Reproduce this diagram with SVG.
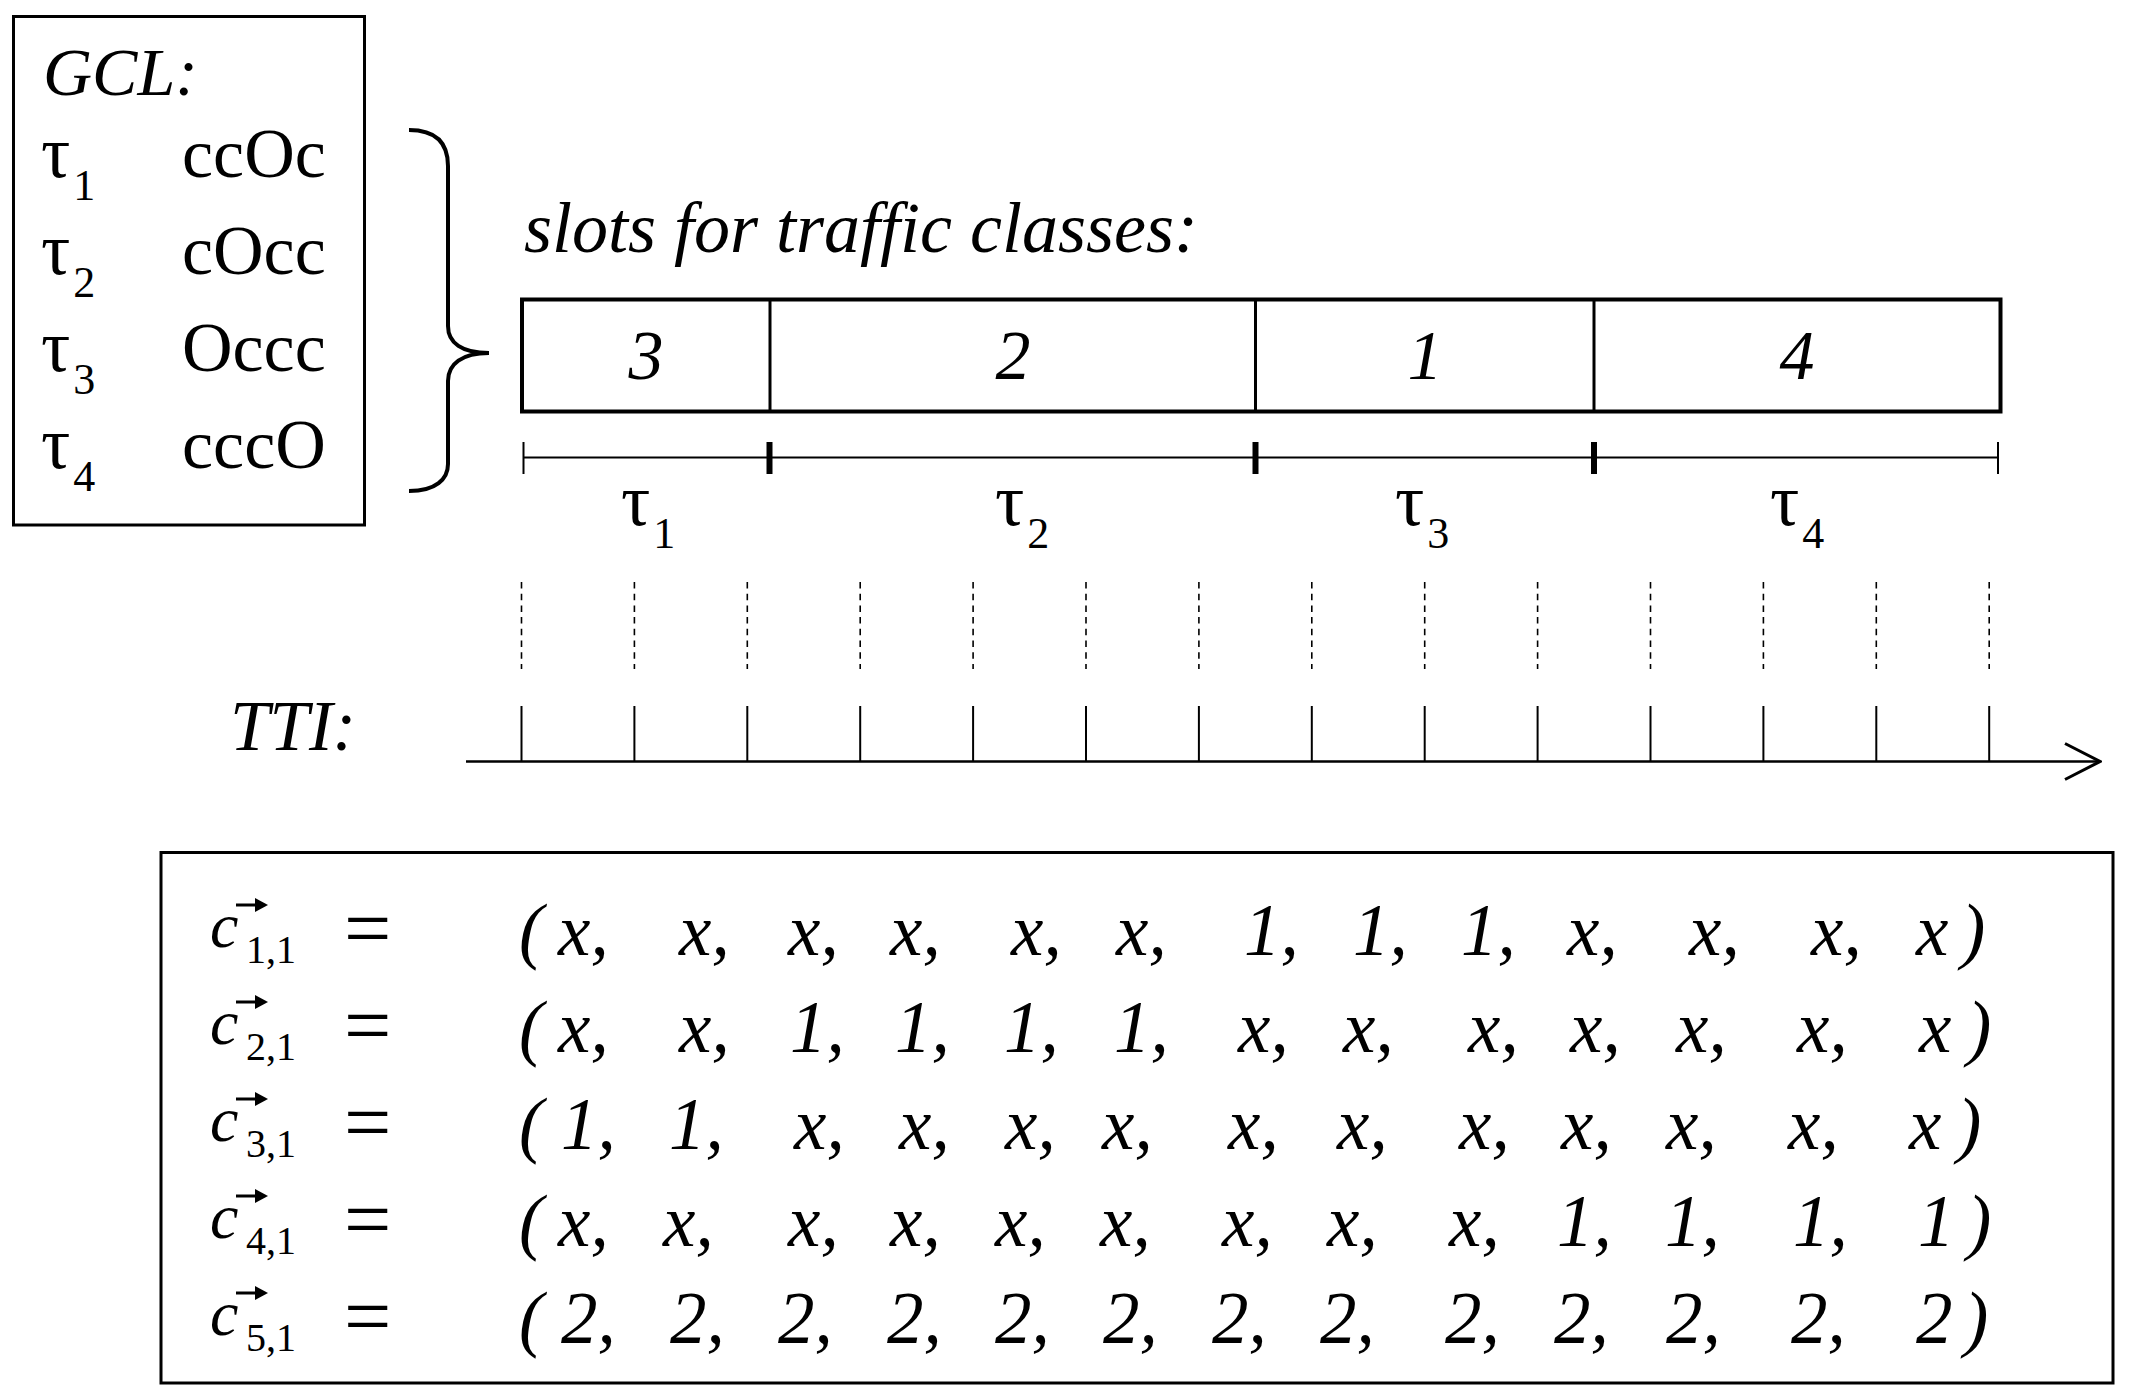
<svg xmlns="http://www.w3.org/2000/svg" width="2132" height="1396" viewBox="0 0 2132 1396">
<defs>
<style>
text{font-family:"Liberation Serif","Times New Roman",serif;fill:#000}
.it{font-style:italic}
.big{font-size:70px}
.tau{font-size:73px}
.sub{font-size:44px}
.ent{font-size:73px;font-style:italic}
.c{font-size:64px;font-style:italic}
.cs{font-size:40px}
.eq{font-size:84px}
.box{fill:none;stroke:#000;stroke-width:3}
.thin{stroke:#000;stroke-width:2;fill:none}
.thick{stroke:#000;stroke-width:6;fill:none}
.dash{stroke:#000;stroke-width:1.6;stroke-dasharray:6.5 5.2;fill:none}
.acc{stroke:#000;stroke-width:3;fill:none}
</style>
<marker id="open" viewBox="0 0 40 40" refX="38" refY="20" markerWidth="40" markerHeight="40" markerUnits="userSpaceOnUse" orient="auto">
<path d="M3,2 L38,20 L3,38" fill="none" stroke="#000" stroke-width="3"/>
</marker>
</defs>
<rect width="2132" height="1396" fill="#fff"/>

<g id="gcl">
<rect class="box" x="13.5" y="16.5" width="351" height="508.5"/>
<text class="it" x="43" y="95" font-size="68">GCL:</text>
<text class="tau" x="41" y="177">τ<tspan class="sub" dx="3" dy="23">1</tspan></text>
<text class="tau" x="41" y="274">τ<tspan class="sub" dx="3" dy="23">2</tspan></text>
<text class="tau" x="41" y="371">τ<tspan class="sub" dx="3" dy="23">3</tspan></text>
<text class="tau" x="41" y="468">τ<tspan class="sub" dx="3" dy="23">4</tspan></text>
<text class="big" x="182" y="177">ccOc</text>
<text class="big" x="182" y="274">cOcc</text>
<text class="big" x="182" y="371">Occc</text>
<text class="big" x="182" y="468">cccO</text>
</g>

<g id="connectors">
<path id="brace" d="M409,130 C436,130 448,143 448,166 L448,326 C448,343 462,353 489,353 C462,353 448,364 448,381 L448,464 C448,479 436,491 409,491" fill="none" stroke="#000" stroke-width="4"/>
<g id="dashes">
<line class="dash" x1="521.5" y1="582" x2="521.5" y2="669"/>
<line class="dash" x1="634.4" y1="582" x2="634.4" y2="669"/>
<line class="dash" x1="747.3" y1="582" x2="747.3" y2="669"/>
<line class="dash" x1="860.2" y1="582" x2="860.2" y2="669"/>
<line class="dash" x1="973.1" y1="582" x2="973.1" y2="669"/>
<line class="dash" x1="1086" y1="582" x2="1086" y2="669"/>
<line class="dash" x1="1198.9" y1="582" x2="1198.9" y2="669"/>
<line class="dash" x1="1311.8" y1="582" x2="1311.8" y2="669"/>
<line class="dash" x1="1424.7" y1="582" x2="1424.7" y2="669"/>
<line class="dash" x1="1537.6" y1="582" x2="1537.6" y2="669"/>
<line class="dash" x1="1650.5" y1="582" x2="1650.5" y2="669"/>
<line class="dash" x1="1763.4" y1="582" x2="1763.4" y2="669"/>
<line class="dash" x1="1876.3" y1="582" x2="1876.3" y2="669"/>
<line class="dash" x1="1989.2" y1="582" x2="1989.2" y2="669"/>
</g>
</g>

<g id="slots">
<text class="it" x="524" y="252" font-size="72">slots for traffic classes:</text>
<rect x="522" y="299.5" width="1478.5" height="112" fill="none" stroke="#000" stroke-width="4"/>
<line x1="770" y1="299.5" x2="770" y2="411.5" stroke="#000" stroke-width="3"/>
<line x1="1255.5" y1="299.5" x2="1255.5" y2="411.5" stroke="#000" stroke-width="3"/>
<line x1="1594" y1="299.5" x2="1594" y2="411.5" stroke="#000" stroke-width="3"/>
<text class="big it" x="646" y="379" text-anchor="middle">3</text>
<text class="big it" x="1013" y="379" text-anchor="middle">2</text>
<text class="big it" x="1425" y="379" text-anchor="middle">1</text>
<text class="big it" x="1797" y="379" text-anchor="middle">4</text>
</g>

<g id="ruler">
<line class="thin" x1="523" y1="457.5" x2="1998" y2="457.5"/>
<line class="thin" x1="523.5" y1="442" x2="523.5" y2="474"/>
<line class="thick" x1="769.5" y1="442" x2="769.5" y2="474"/>
<line class="thick" x1="1255.5" y1="442" x2="1255.5" y2="474"/>
<line class="thick" x1="1594" y1="442" x2="1594" y2="474"/>
<line class="thin" x1="1998" y1="442" x2="1998" y2="474"/>
<text class="tau" x="621" y="525">τ<tspan class="sub" dx="3" dy="23">1</tspan></text>
<text class="tau" x="995" y="525">τ<tspan class="sub" dx="3" dy="23">2</tspan></text>
<text class="tau" x="1395" y="525">τ<tspan class="sub" dx="3" dy="23">3</tspan></text>
<text class="tau" x="1770" y="525">τ<tspan class="sub" dx="3" dy="23">4</tspan></text>
</g>

<g id="tti">
<text class="it" x="230" y="750" font-size="71">TTI:</text>
<line x1="466" y1="761.5" x2="2100" y2="761.5" stroke="#000" stroke-width="2.5" marker-end="url(#open)"/>
<g class="thin">
<line x1="521.5" y1="706" x2="521.5" y2="761"/>
<line x1="634.4" y1="706" x2="634.4" y2="761"/>
<line x1="747.3" y1="706" x2="747.3" y2="761"/>
<line x1="860.2" y1="706" x2="860.2" y2="761"/>
<line x1="973.1" y1="706" x2="973.1" y2="761"/>
<line x1="1086" y1="706" x2="1086" y2="761"/>
<line x1="1198.9" y1="706" x2="1198.9" y2="761"/>
<line x1="1311.8" y1="706" x2="1311.8" y2="761"/>
<line x1="1424.7" y1="706" x2="1424.7" y2="761"/>
<line x1="1537.6" y1="706" x2="1537.6" y2="761"/>
<line x1="1650.5" y1="706" x2="1650.5" y2="761"/>
<line x1="1763.4" y1="706" x2="1763.4" y2="761"/>
<line x1="1876.3" y1="706" x2="1876.3" y2="761"/>
<line x1="1989.2" y1="706" x2="1989.2" y2="761"/>
</g>
</g>

<g id="vectors">
<rect class="box" x="161" y="852.5" width="1952" height="530.5"/>
<g id="row1">
<text class="c" x="210" y="947">c</text><line class="acc" x1="236" y1="905" x2="258" y2="905"/><path d="M255,898 L268,905 L255,912 Z"/>
<text class="cs" x="246" y="963">1,1</text>
<text class="eq" x="344" y="957">=</text>
<text class="ent" x="519" y="955">(</text>
<text class="ent" y="955"><tspan x="558">x,</tspan><tspan x="679">x,</tspan><tspan x="788">x,</tspan><tspan x="890">x,</tspan><tspan x="1011">x,</tspan><tspan x="1116">x,</tspan><tspan x="1244">1,</tspan><tspan x="1353">1,</tspan><tspan x="1461">1,</tspan><tspan x="1567">x,</tspan><tspan x="1689">x,</tspan><tspan x="1811">x,</tspan><tspan x="1916">x</tspan><tspan x="1961">)</tspan></text>
</g>
<g id="row2">
<text class="c" x="210" y="1044">c</text><line class="acc" x1="236" y1="1002" x2="258" y2="1002"/><path d="M255,995 L268,1002 L255,1009 Z"/>
<text class="cs" x="246" y="1060">2,1</text>
<text class="eq" x="344" y="1054">=</text>
<text class="ent" x="519" y="1052">(</text>
<text class="ent" y="1052"><tspan x="558">x,</tspan><tspan x="679">x,</tspan><tspan x="790">1,</tspan><tspan x="895">1,</tspan><tspan x="1004">1,</tspan><tspan x="1114">1,</tspan><tspan x="1238">x,</tspan><tspan x="1343">x,</tspan><tspan x="1468">x,</tspan><tspan x="1570">x,</tspan><tspan x="1676">x,</tspan><tspan x="1797">x,</tspan><tspan x="1919">x</tspan><tspan x="1967">)</tspan></text>
</g>
<g id="row3">
<text class="c" x="210" y="1141">c</text><line class="acc" x1="236" y1="1099" x2="258" y2="1099"/><path d="M255,1092 L268,1099 L255,1106 Z"/>
<text class="cs" x="246" y="1157">3,1</text>
<text class="eq" x="344" y="1151">=</text>
<text class="ent" x="519" y="1149">(</text>
<text class="ent" y="1149"><tspan x="561">1,</tspan><tspan x="669">1,</tspan><tspan x="794">x,</tspan><tspan x="899">x,</tspan><tspan x="1005">x,</tspan><tspan x="1102">x,</tspan><tspan x="1228">x,</tspan><tspan x="1337">x,</tspan><tspan x="1459">x,</tspan><tspan x="1561">x,</tspan><tspan x="1666">x,</tspan><tspan x="1788">x,</tspan><tspan x="1909">x</tspan><tspan x="1957">)</tspan></text>
</g>
<g id="row4">
<text class="c" x="210" y="1238">c</text><line class="acc" x1="236" y1="1196" x2="258" y2="1196"/><path d="M255,1189 L268,1196 L255,1203 Z"/>
<text class="cs" x="246" y="1254">4,1</text>
<text class="eq" x="344" y="1248">=</text>
<text class="ent" x="519" y="1246">(</text>
<text class="ent" y="1246"><tspan x="558">x,</tspan><tspan x="663">x,</tspan><tspan x="788">x,</tspan><tspan x="890">x,</tspan><tspan x="995">x,</tspan><tspan x="1100">x,</tspan><tspan x="1222">x,</tspan><tspan x="1327">x,</tspan><tspan x="1449">x,</tspan><tspan x="1557">1,</tspan><tspan x="1665">1,</tspan><tspan x="1793">1,</tspan><tspan x="1918">1</tspan><tspan x="1967">)</tspan></text>
</g>
<g id="row5">
<text class="c" x="210" y="1335">c</text><line class="acc" x1="236" y1="1293" x2="258" y2="1293"/><path d="M255,1286 L268,1293 L255,1300 Z"/>
<text class="cs" x="246" y="1351">5,1</text>
<text class="eq" x="344" y="1345">=</text>
<text class="ent" x="519" y="1343">(</text>
<text class="ent" y="1343"><tspan x="561">2,</tspan><tspan x="670">2,</tspan><tspan x="778">2,</tspan><tspan x="887">2,</tspan><tspan x="995">2,</tspan><tspan x="1103">2,</tspan><tspan x="1212">2,</tspan><tspan x="1320">2,</tspan><tspan x="1445">2,</tspan><tspan x="1554">2,</tspan><tspan x="1666">2,</tspan><tspan x="1791">2,</tspan><tspan x="1916">2</tspan><tspan x="1964">)</tspan></text>
</g>
</g>
</svg>
